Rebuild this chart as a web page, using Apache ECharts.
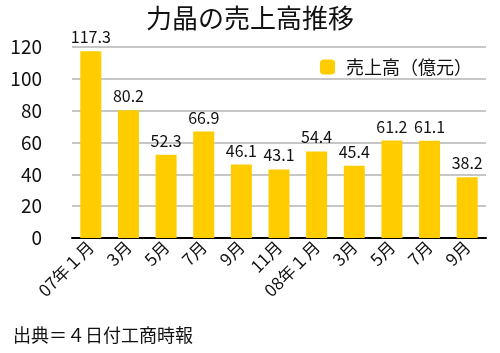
<!DOCTYPE html>
<html>
  <head>
    <meta charset="UTF-8">
    <title>力晶の売上高推移</title>
    <script src="https://cdn.jsdelivr.net/npm/echarts@6/dist/echarts.min.js"></script>
    <style>
      body { margin: 0; background: #fff; }
      #main { width: 500px; height: 353px; }
    </style>
  </head>
  <body>
    <div id="main"></div>
    <script>
      // data
      var months = ['07年１月', '3月', '5月', '7月', '9月', '11月', '08年１月', '3月', '5月', '7月', '9月'];
      var sales = [117.3, 80.2, 52.3, 66.9, 46.1, 43.1, 54.4, 45.4, 61.2, 61.1, 38.2];
      var seriesName = '売上高（億元）';

      var font = '"Noto Sans CJK JP", "Noto Sans", sans-serif';
      var myChart = echarts.init(document.getElementById('main'));

      var option = {
        backgroundColor: '#fff',
        animation: false,
        title: {
          text: '力晶の売上高推移',
          left: 'center',
          top: 0,
          textStyle: { fontFamily: font, fontSize: 26, fontWeight: 'normal', color: '#111' }
        },
        legend: {
          data: [seriesName],
          left: 315,
          top: 53,
          itemWidth: 15,
          itemHeight: 15,
          itemGap: 14,
          textStyle: { fontFamily: font, fontSize: 18, color: '#111', padding: [0, 0, 0, 6] }
        },
        grid: { left: 72, right: 14, top: 47, bottom: 115 },
        xAxis: {
          type: 'category',
          data: months,
          axisLine: { lineStyle: { color: '#000', width: 2 } },
          axisTick: { show: false },
          axisLabel: {
            interval: 0,
            rotate: 45,
            margin: 6,
            fontFamily: font,
            fontSize: 17,
            color: '#111'
          }
        },
        yAxis: {
          type: 'value',
          min: 0,
          max: 120,
          interval: 20,
          axisLine: { show: false },
          axisTick: { show: false },
          splitLine: { lineStyle: { color: '#b3b3b3', width: 1.5 } },
          axisLabel: { fontFamily: font, fontSize: 19, color: '#111', margin: 30 }
        },
        series: [{
          name: seriesName,
          type: 'bar',
          data: sales,
          barWidth: 21,
          itemStyle: { color: '#FFCC00' },
          label: {
            show: true,
            position: 'top',
            distance: 6,
            fontFamily: font,
            fontSize: 16,
            color: '#111'
          }
        }],
        graphic: [{
          type: 'text',
          left: 13,
          top: 326,
          style: { text: '出典＝４日付工商時報', font: '18px ' + font, fill: '#111' }
        }]
      };

      myChart.setOption(option);
    </script>
  </body>
</html>
